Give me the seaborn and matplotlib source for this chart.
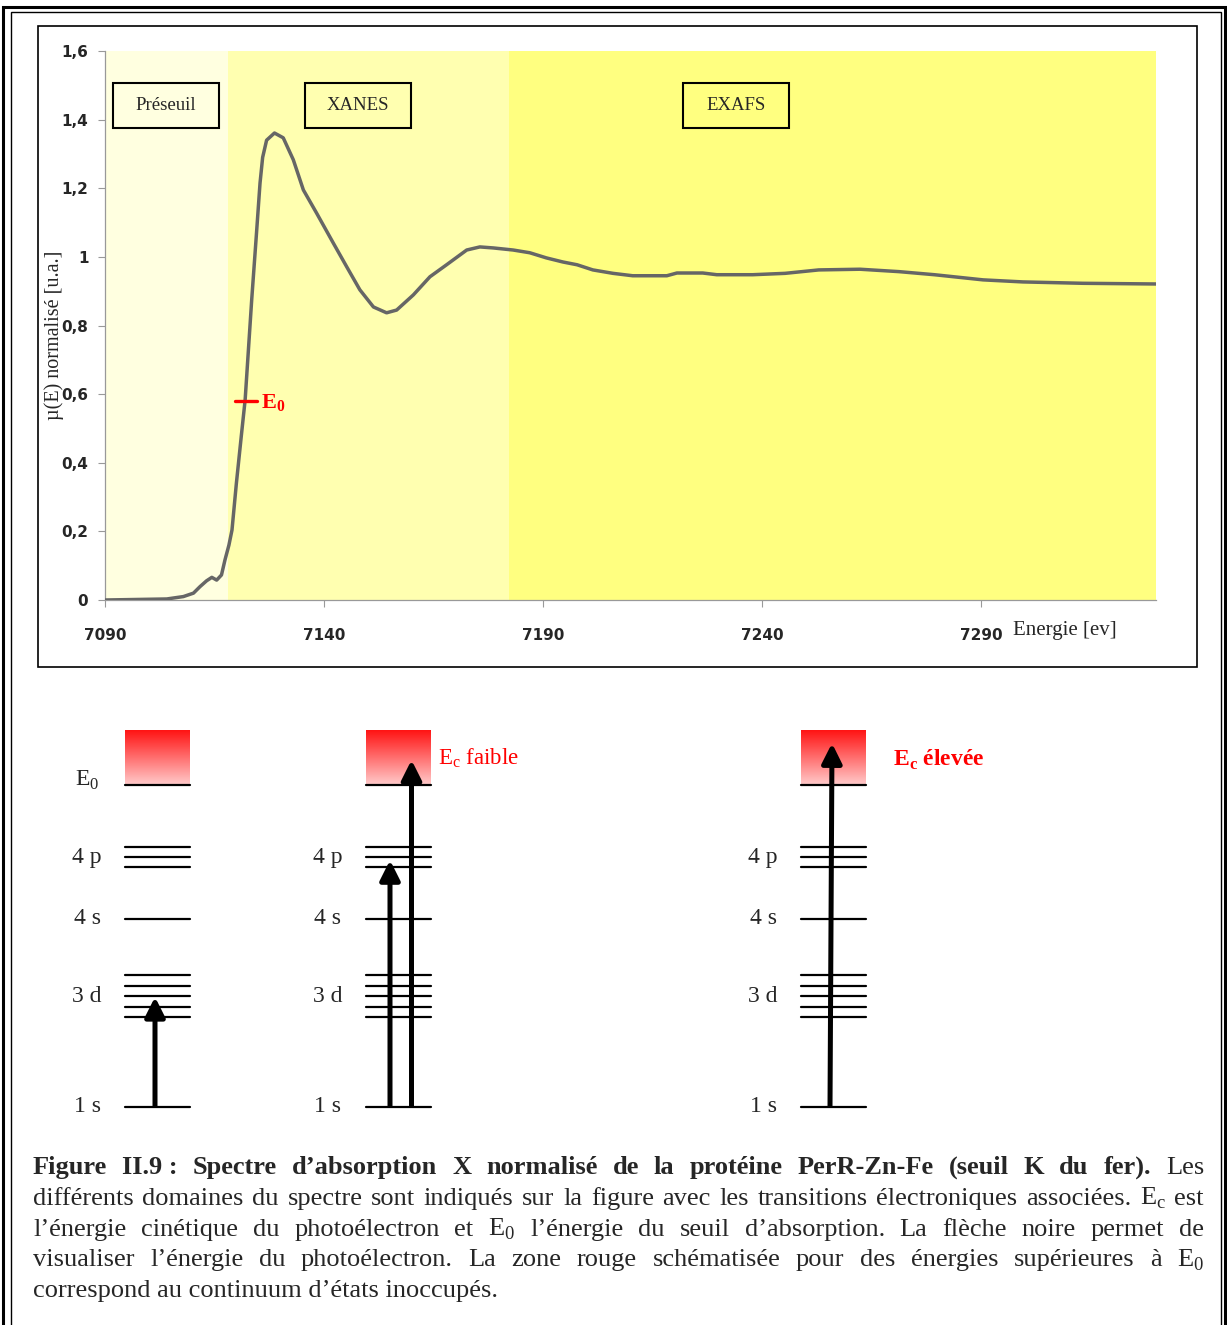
import numpy as np
import pandas as pd
import seaborn as sns
import matplotlib.pyplot as plt
from matplotlib.patches import Rectangle
from matplotlib.colors import LinearSegmentedColormap

# spectre XANES/EXAFS
energie = [7090.0, 7104.1, 7107.9, 7110.2, 7111.7, 7113.2, 7114.4, 7115.5, 7116.6,
           7117.4, 7118.3, 7119.0, 7120.0, 7121.1, 7122.0, 7123.5, 7124.6, 7125.4,
           7126.0, 7126.9, 7128.7, 7130.7, 7133.0, 7135.3, 7138.3, 7142.1, 7145.2,
           7148.2, 7151.3, 7154.3, 7156.6, 7160.4, 7164.2, 7168.0, 7172.6, 7175.6,
           7178.7, 7183.2, 7187.0, 7190.8, 7194.6, 7197.8, 7201.4, 7206.0, 7210.5,
           7218.3, 7220.6, 7226.5, 7229.7, 7237.9, 7245.3, 7253.0, 7262.4, 7271.3,
           7279.4, 7290.5, 7299.6, 7313.3, 7330.0]
mu = [0.000, 0.003, 0.010, 0.020, 0.039, 0.056, 0.066, 0.058, 0.073,
      0.117, 0.160, 0.204, 0.340, 0.475, 0.583, 0.875, 1.070, 1.215,
      1.290, 1.340, 1.361, 1.347, 1.283, 1.195, 1.128, 1.041, 0.971,
      0.904, 0.854, 0.837, 0.845, 0.889, 0.942, 0.977, 1.020, 1.029,
      1.026, 1.020, 1.012, 0.997, 0.985, 0.977, 0.962, 0.952, 0.945,
      0.945, 0.953, 0.953, 0.948, 0.948, 0.952, 0.962, 0.964, 0.957,
      0.948, 0.933, 0.927, 0.923, 0.921]

domaines = ["Préseuil", "XANES", "EXAFS"]
domaine_lim = [(7090, 7118.1), (7118.1, 7182.2), (7182.2, 7330)]
domaine_box_x = [7103.9, 7147.8, 7234.1]
domaine_col = ["#ffffe0", "#ffffb0", "#ffff80"]
E0_x, E0_y = 7122.2, 0.58

x_ticks = [7090, 7140, 7190, 7240, 7290]
y_ticks = [0, 0.2, 0.4, 0.6, 0.8, 1.0, 1.2, 1.4, 1.6]
y_ticklabels = ["0", "0,2", "0,4", "0,6", "0,8", "1", "1,2", "1,4", "1,6"]

# niveaux d'energie (schema, 1s = 0, E0 = 100)
niv_labels = ["E$_0$", "4 p", "4 s", "3 d", "1 s"]
niv_E = {"E0": [100], "4p": [80.7, 77.6, 74.5], "4s": [58.4],
         "3d": [40.9, 37.7, 34.4, 31.1, 27.9], "1s": [0]}
niv_label_E = [101.5, 77.6, 58.4, 34.4, 0]
continuum_top = 117
fleches = [[34.2], [76.7, 107.8], [113.0]]

W, H = 1227, 1325
sns.set_style("white")
plt.rcParams["font.family"] = ["Liberation Serif", "DejaVu Serif"]
plt.rcParams["mathtext.fontset"] = "custom"
plt.rcParams["mathtext.rm"] = "Liberation Serif"
plt.rcParams["mathtext.bf"] = "Liberation Serif:bold"

fig = plt.figure(figsize=(W / 100, H / 100), dpi=100)


def fx(x):
    return x / W


def fy(y):
    return 1 - y / H


def frame(x0, y0, x1, y1, lw, color="black"):
    fig.add_artist(Rectangle((fx(x0), fy(y1)), fx(x1) - fx(x0), fy(y0) - fy(y1),
                             fill=False, lw=lw, ec=color, transform=fig.transFigure))


# cadres
frame(3, 7, 1225, 1330, 2.2)
frame(11, 12, 1221, 1330, 1.0)
frame(38, 26, 1197, 667, 1.2)

# ---- spectre ----
ax = fig.add_axes([fx(105), fy(600), fx(1156) - fx(105), fy(51) - fy(600)])
for (a, b), c in zip(domaine_lim, domaine_col):
    ax.axvspan(a, b, color=c, lw=0, zorder=0)

df = pd.DataFrame({"E": energie, "mu": mu})
sns.lineplot(data=df, x="E", y="mu", color="#666666", lw=2.5, ax=ax, zorder=3)

for name, xc in zip(domaines, domaine_box_x):
    bw, bh = 24.2, 0.131
    ax.add_patch(Rectangle((xc - bw / 2, 1.442 - bh / 2), bw, bh, fill=False,
                           lw=1.5, ec="black", zorder=4))
    ax.text(xc, 1.442, name, ha="center", va="center", fontsize=13.5, zorder=5)

ax.plot([E0_x - 2.6, E0_x + 2.4], [E0_y, E0_y], color="red", lw=2.4, zorder=5)
ax.text(E0_x + 3.5, E0_y - 0.005, r"E$_\mathbf{0}$", color="red", fontsize=16,
        fontweight="bold", ha="left", va="center", zorder=5)

ax.set_xlim(7090, 7330)
ax.set_ylim(0, 1.6)
ax.set_xticks(x_ticks)
ax.set_xticklabels([str(t) for t in x_ticks], family="DejaVu Sans",
                   fontweight="bold", fontsize=11)
ax.set_yticks(y_ticks)
ax.set_yticklabels(y_ticklabels, family="DejaVu Sans", fontweight="bold",
                   fontsize=11)
ax.tick_params(axis="y", length=5, width=0.8, color="#999999", pad=7, left=True)
ax.tick_params(axis="x", length=5, width=0.8, color="#999999", pad=15, bottom=True)
for s in ["top", "right"]:
    ax.spines[s].set_visible(False)
for s in ["left", "bottom"]:
    ax.spines[s].set_color("#999999")
    ax.spines[s].set_linewidth(0.9)
ax.set_xlabel("")
ax.set_ylabel("")
fig.text(fx(54), fy(335), "µ(E) normalisé [u.a.]", rotation=90, ha="center",
         va="center", fontsize=14.5)
fig.text(fx(1013), fy(630), "Energie [ev]", ha="left", va="center", fontsize=15)

# ---- schema des niveaux ----
ax2 = fig.add_axes([0, fy(1120), 1, fy(720) - fy(1120)])
ax2.set_axis_off()
col_x = [125, 366, 801]
col_w = 65
grad = LinearSegmentedColormap.from_list("rouge", ["#ffcaca", "#ff1414"])
for i, x0 in enumerate(col_x):
    ax2.imshow(np.linspace(0, 1, 100).reshape(-1, 1), extent=[x0, x0 + col_w, 100, continuum_top],
               origin="lower", aspect="auto", cmap=grad, zorder=1)
    for key, vals in niv_E.items():
        for v in vals:
            ax2.plot([x0, x0 + col_w], [v, v], color="black", lw=1.6, zorder=2)
    for lab, e in zip(niv_labels, niv_label_E):
        if lab.startswith("E") and i > 0:
            continue
        ax2.text(x0 - 38, e, lab, ha="center", va="center", fontsize=17)

arrow_x = [[155], [390, 411.5], [830]]
for x0, xs, tops in zip(col_x, arrow_x, fleches):
    for xa, top in zip(xs, tops):
        xtop = xa + (2 if top > 110 else 0)
        ax2.annotate("", xy=(xtop, top), xytext=(xa, 0),
                     arrowprops=dict(arrowstyle="-|>,head_length=0.6,head_width=0.3",
                                     lw=3.6, color="black", shrinkA=0, shrinkB=0,
                                     mutation_scale=20, capstyle="butt"), zorder=3)

ax2.text(438, 108.4, r"$\mathrm{E}_\mathrm{c}$ faible", color="red", fontsize=16.5,
         ha="left", va="center")
ax2.text(893, 107.8, r"$\mathbf{E}_\mathbf{c}$ élevée", color="red", fontsize=17,
         fontweight="bold", ha="left", va="center")
ax2.set_xlim(0, W)
ax2.set_ylim(-4.04, 120.2)

# ---- legende justifiee ----
lignes = [
    [("Figure", "bold"), ("II.9 :", "bold"), ("Spectre", "bold"), ("d’absorption", "bold"),
     ("X", "bold"), ("normalisé", "bold"), ("de", "bold"), ("la", "bold"),
     ("protéine", "bold"), ("PerR-Zn-Fe", "bold"), ("(seuil", "bold"), ("K", "bold"),
     ("du", "bold"), ("fer).", "bold"), ("Les", "normal")],
    [(w, "normal") for w in "différents domaines du spectre sont indiqués sur la figure avec les transitions électroniques associées.".split()]
    + [(r"$\mathrm{E}_\mathrm{c}$", "normal"), ("est", "normal")],
    [(w, "normal") for w in "l’énergie cinétique du photoélectron et".split()]
    + [(r"$\mathrm{E}_\mathrm{0}$", "normal")]
    + [(w, "normal") for w in "l’énergie du seuil d’absorption. La flèche noire permet de".split()],
    [(w, "normal") for w in "visualiser l’énergie du photoélectron. La zone rouge schématisée pour des énergies supérieures à".split()]
    + [(r"$\mathrm{E}_\mathrm{0}$", "normal")],
]
fs_cap = 19
renderer = fig.canvas.get_renderer()
x_left, x_right = 33, 1204
for k, words in enumerate(lignes):
    yb = 1174 + k * 30.8
    objs = [fig.text(0, fy(yb), w, fontsize=fs_cap, fontweight=wt, va="baseline")
            for w, wt in words]
    widths = [o.get_window_extent(renderer).width for o in objs]
    gap = (x_right - x_left - sum(widths)) / (len(objs) - 1)
    x = x_left
    for o, wd in zip(objs, widths):
        o.set_x(fx(x))
        x += wd + gap
fig.text(fx(x_left), fy(1174 + 4 * 30.8), "correspond au continuum d’états inoccupés.",
         fontsize=fs_cap, va="baseline")

plt.savefig("out.png", dpi=100)
